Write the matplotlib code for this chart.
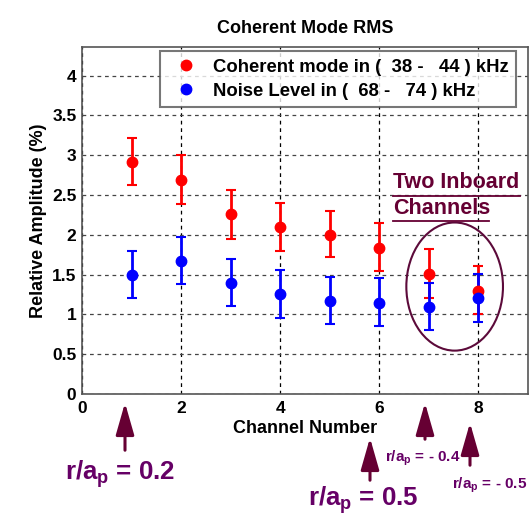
import matplotlib
matplotlib.use("Agg")
import matplotlib.pyplot as plt
from matplotlib.patches import Ellipse, FancyArrowPatch
from matplotlib.lines import Line2D

plt.rcParams['font.family'] = ['Liberation Sans', 'DejaVu Sans']
plt.rcParams['font.weight'] = 'bold'
plt.rcParams['mathtext.fontset'] = 'custom'
plt.rcParams['mathtext.rm'] = 'Liberation Sans:bold'
plt.rcParams['mathtext.bf'] = 'Liberation Sans:bold'
plt.rcParams['mathtext.default'] = 'rm'

channels = [1, 2, 3, 4, 5, 6, 7, 8]
coherent = [2.91, 2.69, 2.26, 2.10, 2.00, 1.84, 1.51, 1.30]
coh_upper = [3.22, 3.00, 2.56, 2.40, 2.30, 2.15, 1.82, 1.61]
coh_lower = [2.62, 2.39, 1.95, 1.80, 1.72, 1.55, 1.21, 1.01]
noise = [1.50, 1.67, 1.40, 1.26, 1.17, 1.14, 1.09, 1.21]
noise_upper = [1.80, 1.97, 1.70, 1.56, 1.47, 1.46, 1.39, 1.51]
noise_lower = [1.20, 1.38, 1.11, 0.96, 0.88, 0.86, 0.80, 0.91]
xticks = [0, 2, 4, 6, 8]
yticks = [0, 0.5, 1, 1.5, 2, 2.5, 3, 3.5, 4]
ytick_labels = ['0', '0.5', '1', '1.5', '2', '2.5', '3', '3.5', '4']
labels = ['Coherent mode in (  38 -   44 ) kHz', 'Noise Level in (  68 -   74 ) kHz']

W, H = 530, 516
fig = plt.figure(figsize=(W / 100, H / 100), dpi=100)
ax = fig.add_axes([82 / W, 1 - 394 / H, 446 / W, 347 / H])

coh_err = [[c - l for c, l in zip(coherent, coh_lower)], [u - c for c, u in zip(coherent, coh_upper)]]
noise_err = [[c - l for c, l in zip(noise, noise_lower)], [u - c for c, u in zip(noise, noise_upper)]]

ax.errorbar(channels, coherent, yerr=coh_err, fmt='o', color='#ff0000', ms=7.5,
            elinewidth=2, capsize=3.5, capthick=1.5, zorder=3)
ax.errorbar(channels, noise, yerr=noise_err, fmt='o', color='#0000ff', ms=7.5,
            elinewidth=2, capsize=3.5, capthick=1.5, zorder=3)

ax.set_xlim(0, 9)
ax.set_ylim(0, 4.36)
ax.set_xticks(xticks)
ax.set_yticks(yticks)
ax.set_yticklabels(ytick_labels)
ax.tick_params(labelsize=12.5, length=0)
ax.tick_params(axis='x', pad=5)
ax.tick_params(axis='y', pad=4)
for lbl in ax.get_xticklabels() + ax.get_yticklabels():
    lbl.set_fontweight('bold')
ax.xaxis.grid(True, linestyle=(0, (3, 3)), color='black', lw=0.9)
ax.yaxis.grid(True, linestyle=(0, (3, 3)), color='#444444', lw=0.9)
for s in ax.spines.values():
    s.set_color('#555555')
    s.set_linewidth(1.2)

ax.set_title('Coherent Mode RMS', fontsize=13, fontweight='bold', pad=10)
ax.set_xlabel('Channel Number', fontsize=13, fontweight='bold', labelpad=3)
ax.set_ylabel('Relative Amplitude (%)', fontsize=13, fontweight='bold', labelpad=4)

handles = [Line2D([], [], ls='none', marker='o', color='#ff0000', ms=7.5),
           Line2D([], [], ls='none', marker='o', color='#0000ff', ms=7.5)]
leg = ax.legend(handles, labels, loc='upper right', bbox_to_anchor=(0.974, 0.988), fontsize=13.3,
                frameon=True, fancybox=False, edgecolor='#555555', handletextpad=0.5,
                borderpad=0.4, labelspacing=0.4, handlelength=2.0, borderaxespad=0)
leg.get_frame().set_linewidth(1.5)
leg.set_zorder(5)

ell = Ellipse((7.52, 1.35), 1.95, 1.61, fill=False, edgecolor='#5c0a3a', lw=1.5, zorder=4)
ax.add_patch(ell)
fig.text(393 / W, 1 - 183 / H, 'Two Inboard', color='#660033',
         fontsize=15.5, fontweight='bold', va='center', ha='left')
fig.text(393 / W, 1 - 208 / H, 'Channels', color='#660033',
         fontsize=15.5, fontweight='bold', va='center', ha='left')
fig.add_artist(Line2D([393 / W, 520 / W], [1 - 196 / H, 1 - 196 / H], color='#660033', lw=1.3))
fig.add_artist(Line2D([393 / W, 489 / W], [1 - 221 / H, 1 - 221 / H], color='#660033', lw=1.3))

arrow_col = '#660033'
text_col = '#660066'
arrows = [(125, 453, 400), (370, 483, 435), (425, 442, 400), (470, 468, 420)]
for x, y0, y1 in arrows:
    fig.add_artist(FancyArrowPatch(
        (x / W, 1 - y0 / H), (x / W, 1 - y1 / H), transform=fig.transFigure,
        arrowstyle='-|>,head_length=1.4,head_width=0.4', mutation_scale=14,
        color=arrow_col, lw=2.2))

fig.text(65 / W, 1 - 474 / H, r'r/a$_\mathrm{p}$ = 0.2', color=text_col, fontsize=18.6,
         fontweight='bold', ha='left', va='center')
fig.text(308 / W, 1 - 500 / H, r'r/a$_\mathrm{p}$ = 0.5', color=text_col, fontsize=18.6,
         fontweight='bold', ha='left', va='center')
fig.text(385 / W, 1 - 458 / H, r'r/a$_\mathrm{p}$ = - 0.4', color=text_col, fontsize=11,
         fontweight='bold', ha='left', va='center')
fig.text(452 / W, 1 - 485 / H, r'r/a$_\mathrm{p}$ = - 0.5', color=text_col, fontsize=11,
         fontweight='bold', ha='left', va='center')

fig.savefig('out.png', dpi=100)
